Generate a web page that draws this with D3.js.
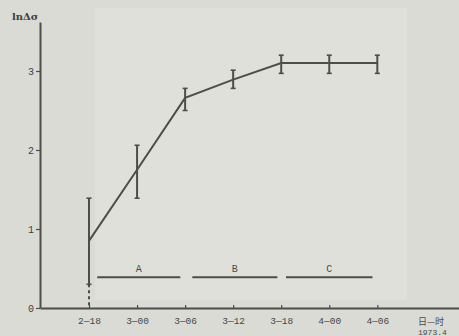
<!DOCTYPE html>
<html>
<head>
<meta charset="utf-8">
<script src="https://cdn.jsdelivr.net/npm/d3@7"></script>
<style>
  body { margin: 0; background: #dcdcd7; }
  svg { display: block; }
</style>
</head>
<body>
<svg class="chart" width="459" height="336"></svg>
<script>
// time labels (day-hour), one every 6 h
var timeLabels = ["2\u201418", "3\u201400", "3\u201406", "3\u201412", "3\u201418", "4\u201400", "4\u201406"];
// ln(delta sigma)
var meanValues = [0.85, 1.75, 2.66, 2.89, 3.10, 3.10, 3.10];
var highValues = [1.39, 2.06, 2.78, 3.01, 3.20, 3.20, 3.20];
var lowValues  = [0.30, 1.39, 2.50, 2.78, 2.97, 2.97, 2.97];
var dashedTail = [0.02, null, null, null, null, null, null];
var yTicks = [0, 1, 2, 3];
// stage bars, in units of tick index
var stageNames = ["A", "B", "C"];
var stageStart = [0.17, 2.15, 4.10];
var stageEnd   = [1.90, 3.92, 5.90];

var ink = "#4d4d4b";
var svg = d3.select("svg.chart");

// scanned paper look
svg.append("rect").attr("width", 459).attr("height", 336).attr("fill", "#dbdbd6");
svg.append("rect").attr("x", 95).attr("y", 8).attr("width", 312).attr("height", 292)
    .attr("fill", "#e0e0db");

var x = d3.scaleLinear().domain([-1.02, 7.7]).range([40, 459]);
var y = d3.scaleLinear().domain([0, 3.62]).range([308, 22]);

// y axis
var gy = svg.append("g")
    .attr("transform", "translate(" + x(-1.02) + ",0)")
    .call(d3.axisLeft(y).tickValues(yTicks).tickFormat(d3.format("d"))
        .tickSizeInner(4).tickSizeOuter(0).tickPadding(2));
gy.select(".domain").attr("stroke", ink).attr("stroke-width", 2);
gy.selectAll(".tick line").attr("stroke", ink).attr("stroke-width", 1.2);
gy.selectAll("text")
    .style("font-family", "'Liberation Mono', monospace")
    .style("font-size", "10px")
    .attr("fill", "#3f3f3d");

// x axis
var gx = svg.append("g")
    .attr("transform", "translate(0," + y(0) + ")")
    .call(d3.axisBottom(x).tickValues(d3.range(timeLabels.length))
        .tickFormat(function(d) { return timeLabels[d]; })
        .tickSizeInner(-3).tickSizeOuter(0).tickPadding(9));
gx.select(".domain").attr("stroke", ink).attr("stroke-width", 2);
gx.selectAll(".tick line").attr("stroke", ink).attr("stroke-width", 1.2);
gx.selectAll("text")
    .style("font-family", "'Liberation Mono', monospace")
    .style("font-size", "9.5px")
    .attr("fill", "#474745");

// axis titles
svg.append("text").attr("x", 12).attr("y", 20).text("ln\u0394\u03c3")
    .style("font-family", "'DejaVu Serif', serif").style("font-size", "10px")
    .style("font-weight", "bold").attr("fill", "#3f3f3d");
svg.append("text").attr("x", 418).attr("y", 325).text("\u65e5\u2014\u65f6")
    .style("font-family", "'Noto Sans CJK SC', sans-serif").style("font-size", "9px")
    .attr("fill", "#4a4a48");
svg.append("text").attr("x", 418).attr("y", 335).text("1973.4")
    .style("font-family", "'Liberation Mono', monospace").style("font-size", "8px")
    .attr("fill", "#4a4a48");

var idx = d3.range(meanValues.length);

// error bars
svg.append("g").selectAll("line.err")
    .data(idx).enter().append("line")
    .attr("x1", function(i) { return x(i); }).attr("x2", function(i) { return x(i); })
    .attr("y1", function(i) { return y(highValues[i]); })
    .attr("y2", function(i) { return y(lowValues[i]); })
    .attr("stroke", ink).attr("stroke-width", 2);
idx.forEach(function(i) {
    [highValues[i], lowValues[i]].forEach(function(v) {
        svg.append("line")
            .attr("x1", x(i) - 2.5).attr("x2", x(i) + 2.5)
            .attr("y1", y(v)).attr("y2", y(v))
            .attr("stroke", ink).attr("stroke-width", 1.6);
    });
    if (dashedTail[i] != null) {
        svg.append("line")
            .attr("x1", x(i)).attr("x2", x(i))
            .attr("y1", y(lowValues[i])).attr("y2", y(dashedTail[i]))
            .attr("stroke", ink).attr("stroke-width", 2)
            .attr("stroke-dasharray", "3,3");
    }
});

// mean line
var line = d3.line()
    .x(function(i) { return x(i); })
    .y(function(i) { return y(meanValues[i]); });
svg.append("path").datum(idx)
    .attr("d", line)
    .attr("fill", "none").attr("stroke", ink).attr("stroke-width", 2);

// stage bars A, B, C
var stageY = 0.39;
stageNames.forEach(function(s, k) {
    svg.append("line")
        .attr("x1", x(stageStart[k])).attr("x2", x(stageEnd[k]))
        .attr("y1", y(stageY)).attr("y2", y(stageY))
        .attr("stroke", ink).attr("stroke-width", 2);
    svg.append("text")
        .attr("x", x((stageStart[k] + stageEnd[k]) / 2))
        .attr("y", y(stageY) - 5)
        .attr("text-anchor", "middle")
        .text(s)
        .style("font-family", "'Liberation Mono', monospace")
        .style("font-size", "10px").attr("fill", "#4a4a48");
});
</script>
</body>
</html>
